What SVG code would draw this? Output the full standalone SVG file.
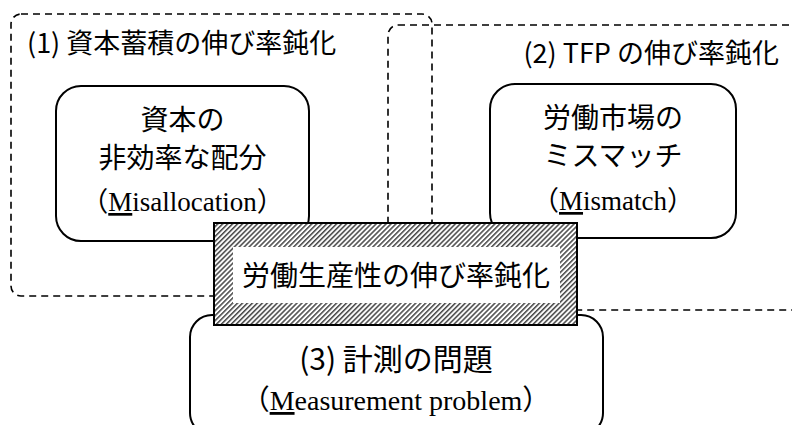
<svg xmlns="http://www.w3.org/2000/svg" width="792" height="425" viewBox="0 0 792 425">
<style>
.dash{fill:none;stroke:#000;stroke-width:1.6;stroke-dasharray:7 5}
.box{fill:#fff;stroke:#000;stroke-width:2}
.g{font-family:"Noto Sans CJK JP","Noto Sans",sans-serif;font-size:28px;fill:#000}
.t{font-size:27px}
.b{font-size:30px}
.s{font-family:"Liberation Serif","Noto Sans CJK JP",serif;font-size:27px;fill:#000}
.m{font-size:28px}
.c{text-anchor:middle}
</style>
<defs>
<pattern id="hatch" patternUnits="userSpaceOnUse" width="3.5" height="3.5" patternTransform="rotate(45)">
<rect width="3.5" height="3.5" fill="#fff"/>
<line x1="0.8" y1="0" x2="0.8" y2="3.5" stroke="#000" stroke-width="1.1"/>
</pattern>
</defs>
<g id="group1">
<rect class="dash" x="11" y="14" width="421" height="282" rx="10"/>
<text class="g t" x="27" y="53">(1) 資本蓄積の伸び率鈍化</text>
</g>
<g id="group2">
<rect class="dash" x="388" y="25" width="420" height="285" rx="10"/>
<text class="g t" x="779" y="63" text-anchor="end">(2) TFP の伸び率鈍化</text>
</g>
<g id="misallocation">
<rect class="box" x="56" y="86" width="253" height="155" rx="25"/>
<text class="g c" x="182.5" y="130">資本の</text>
<text class="g c" x="182.5" y="168">非効率な配分</text>
<text class="s c" x="182.5" y="211">（<tspan text-decoration="underline">M</tspan>isallocation）</text>
</g>
<g id="mismatch">
<rect class="box" x="490" y="84" width="246" height="154" rx="25"/>
<text class="g c" x="613" y="128">労働市場の</text>
<text class="g c" x="613" y="166">ミスマッチ</text>
<text class="s c" x="613" y="210">（<tspan text-decoration="underline">M</tspan>ismatch）</text>
</g>
<g id="measurement">
<rect class="box" x="190" y="315" width="413" height="120" rx="22"/>
<text class="g b c" x="396" y="370">(3) 計測の問題</text>
<text class="s m c" x="396" y="410">（<tspan text-decoration="underline">M</tspan>easurement problem）</text>
</g>
<g id="labour-productivity">
<rect x="214" y="223" width="363" height="102" fill="url(#hatch)" stroke="#000" stroke-width="2"/>
<rect x="233" y="247" width="327" height="56" fill="#fff"/>
<text class="g c" x="396" y="286">労働生産性の伸び率鈍化</text>
</g>
<g id="connectors"/>
</svg>
